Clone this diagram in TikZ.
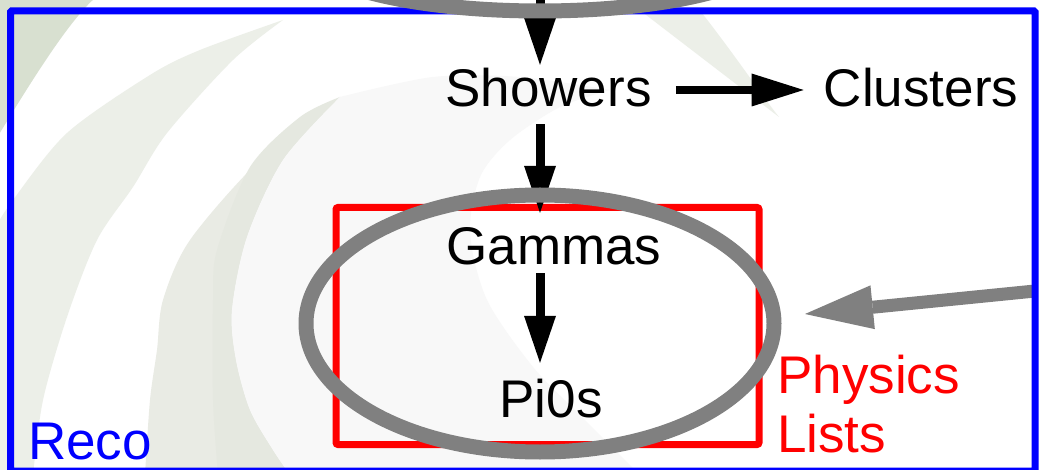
\documentclass[tikz,border=0pt]{standalone}
\usepackage{fontspec}
\setmainfont{Liberation Sans}
\usetikzlibrary{arrows.meta,shapes.geometric}

\definecolor{leafdark}{RGB}{216,224,208}
\definecolor{leafpale}{RGB}{236,239,232}
\definecolor{leafmid}{RGB}{233,235,228}
\definecolor{leafdeep}{RGB}{229,232,224}
\definecolor{mist}{RGB}{248,248,248}
\definecolor{ringgray}{RGB}{128,128,128}

\tikzset{
  label/.style={inner sep=0pt, anchor=base, text height=40pt, text depth=0pt,
                font=\fontsize{53}{60}\selectfont},
  flow/.style={line width=9pt, -{Triangle[length=47pt,width=32pt,line width=0pt]}},
  sideflow/.style={line width=8pt, -{Triangle[length=52pt,width=33pt,line width=0pt]}},
  pointer/.style={ringgray, line width=13pt, -{Triangle[length=68pt,width=44pt,line width=0pt]}},
  ring/.style={ellipse, draw=ringgray, line width=15pt, inner sep=0pt},
  frame/.style={line width=7pt}
}

\begin{document}
\begin{tikzpicture}[x=1pt,y=-1pt]
\useasboundingbox (0,0) rectangle (1039,470);
\fill[white] (0,0) rectangle (1039,470);

% swirl backdrop
\fill[leafdark] (-2,-2) -- (95,-2) .. controls (70,20) and (35,75) .. (-2,136) -- cycle;
\fill[leafpale] plot[smooth] coordinates {(283,20) (200,50) (150,75) (67,133) (13,200) (-5,228)}
  -- (-5,475) -- plot[smooth] coordinates {(33,475) (43,400) (67,317) (97,240) (133,187) (167,133) (233,60) (283,20)} -- cycle;
\fill[leafmid] plot[smooth] coordinates {(340,97) (260,160) (190,240) (163,300) (157,350) (150,400) (145,475)}
  -- (290,475) -- plot[smooth] coordinates {(290,475) (273,450) (250,410) (236,360) (232,310) (247,237) (283,160) (340,97)} -- cycle;
\fill[leafdeep] plot[smooth] coordinates {(340,97) (300,117) (250,167) (217,250) (213,300) (213,400) (218,475)}
  -- (290,475) -- plot[smooth] coordinates {(290,475) (273,450) (250,410) (236,360) (232,310) (247,237) (283,160) (340,97)} -- cycle;
\fill[mist] plot[smooth] coordinates {(340,97) (283,160) (247,237) (232,310) (236,360) (250,410) (273,450) (290,475)}
  -- (640,475) -- plot[smooth] coordinates {(640,475) (580,415) (533,367) (487,300) (470,233) (480,177) (510,140) (560,107) (610,90)}
  -- plot[smooth] coordinates {(610,90) (520,77) (433,77) (340,97)} -- cycle;
\fill[leafpale] (637,8) -- (779,117) .. controls (765,100) and (735,55) .. (698,8) -- cycle;

% grey pointer into the list group
\coordinate (ptr) at (1035,291);
\coordinate (ptrtip) at (805,314);
\draw[pointer] (ptr) -- (ptrtip);

% frames
\draw[frame, blue, rounded corners=1pt] (10.5,11) rectangle (1035,471);
\draw[frame, red, rounded corners=2pt] (336,207.5) rectangle (759,444.5);

% labels
\node[label] (showers) at (548.5,107) {Showers};
\node[label] (clusters) at (921,107) {Clusters};
\node[label] (gammas) at (554,265) {Gammas};
\node[label] (pi0s) at (551,417) {Pi0s};
\node[label, anchor=base west, text=red] (physics) at (777,393) {Physics};
\node[label, anchor=base west, text=red] (lists) at (777,452) {Lists};
\node[label, anchor=base west, text=blue] (reco) at (28,459) {Reco};

% flow arrows
\coordinate (feed) at (540,-6);
\draw[flow, shorten >=2pt] (feed) -- (feed |- showers.north);
\draw[flow, shorten <=17pt, shorten >=12pt] (showers.south -| feed) -- (gammas.north -| feed);
\draw[flow, shorten <=8pt, shorten >=14pt] (gammas.south -| feed) -- (pi0s.north -| feed);
\draw[sideflow, shorten <=24pt, shorten >=20pt] ([yshift=-3pt]showers.east) -- ([yshift=-3pt]clusters.west);

% highlight rings
\node[ring, minimum width=466pt, minimum height=116pt] (upperring) at (540,-47) {};
\node[ring, minimum width=468pt, minimum height=257pt] (listring) at (540,323.5) {};
\end{tikzpicture}
\end{document}
